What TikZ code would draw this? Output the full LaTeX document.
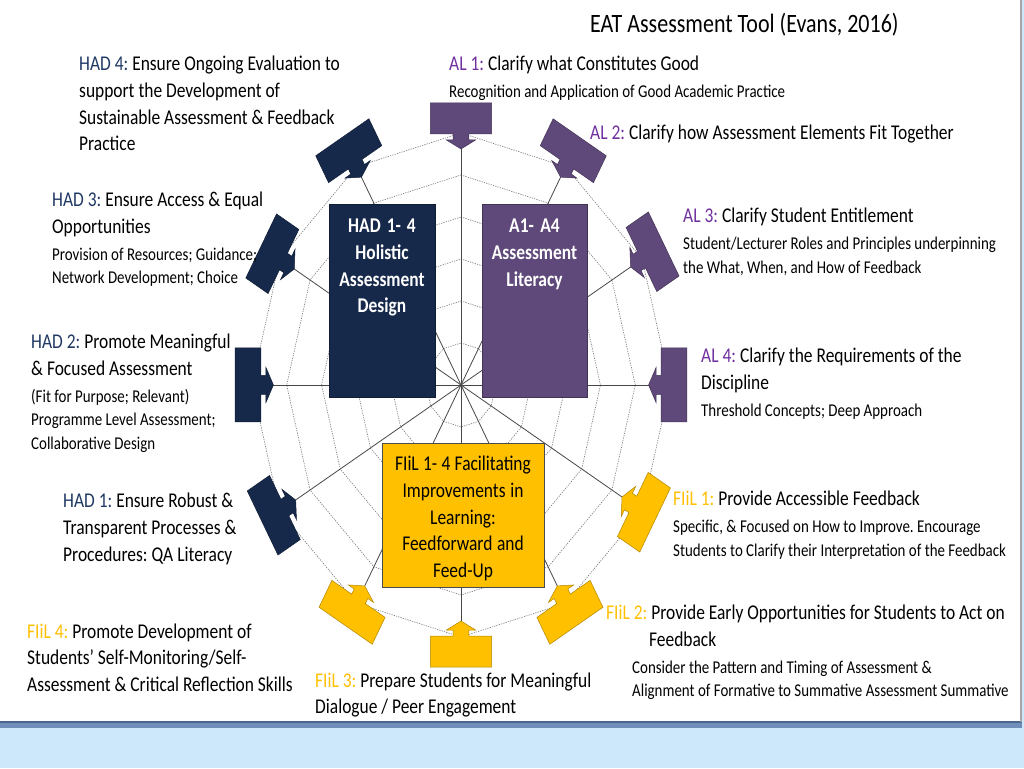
\documentclass[tikz,border=0pt]{standalone}
\usepackage{fontspec}
\setmainfont{Carlito}[FakeStretch=0.83]
\definecolor{navy}{HTML}{17294B}
\definecolor{purp}{HTML}{5F497A}
\definecolor{gold}{HTML}{FFC000}
\definecolor{hadc}{HTML}{1F3864}
\definecolor{alc}{HTML}{7030A0}
\definecolor{fiilc}{HTML}{FFC000}
\definecolor{bgblue}{HTML}{CCE8FA}
\definecolor{bandblue}{HTML}{6F8FBA}
\definecolor{banddark}{HTML}{4A6590}
\newcommand{\hp}[1]{\textcolor{hadc}{#1}}
\newcommand{\ap}[1]{\textcolor{alc}{#1}}
\newcommand{\fp}[1]{\textcolor{fiilc}{#1}}
\newcommand{\setsp}{\frenchspacing\spaceskip=0.188em plus 0.1em minus 0.05em\relax}
\newcommand{\mainsz}{\fontsize{21}{26.6}\selectfont\setsp}
\newcommand{\smsz}{\fontsize{18}{23.5}\selectfont\setsp}
\newcommand{\gapsm}{\par\vspace{3.2pt}\smsz}
\begin{document}
\begin{tikzpicture}[x=1pt,y=1pt,
  ring/.style={draw=black!55, line width=0.6pt, dash pattern=on 1.2pt off 1.2pt},
  spoke/.style={draw=black!72, line width=0.8pt},
  bigbox/.style={rectangle, inner sep=0pt, line width=0.6pt},
  boxtxt/.style={anchor=base, inner sep=0pt, text width=150pt, align=center, font=\mainsz, execute at begin node=\setsp},
  lbl/.style={anchor=base west, inner sep=0pt, text width=460pt, align=left, font=\mainsz, execute at begin node=\setsp}]
\useasboundingbox (0,0) rectangle (1024,768);
% slide background
\fill[bgblue] (0,0) rectangle (1024,768);
\fill[white] (0,46) rectangle (1020,768);
\fill[bandblue] (0,40) rectangle (1022,46);
\fill[banddark] (0,45) rectangle (1022,47);
\fill[black!35] (1020,46) rectangle (1022,768);
% chart
\coordinate (c) at (461,383);
\begin{scope}[shift={(461,383)}, xscale=0.83]
  \foreach \r in {42,84,...,252}
    \draw[ring] (90:\r) \foreach \a in {60,30,...,-240} { -- (\a:\r) } -- cycle;
  \foreach \k/\ang/\r in {0/90/236,1/60/240,2/30/236,3/0/226,4/-30/224,5/-60/232,
                          6/-90/236,7/-120/232,8/-150/230,9/180/226,10/150/232,11/120/240}
    \coordinate (t\k) at (\ang:\r);
  \foreach \k in {0,...,11} \draw[spoke] (c) -- (t\k);
  \foreach \ang/\r/\col in {90/236/purp,60/240/purp,30/236/purp,0/226/purp,
                            -30/224/gold,-60/232/gold,-90/236/gold,-120/232/gold,
                            -150/230/navy,180/226/navy,150/232/navy,120/240/navy}{
    \begin{scope}[shift={(\ang:\r)}, rotate=\ang-90]
      \filldraw[fill=\col, draw=\col!70!black, line width=0.5pt]
        (0,0) -- (17.5,9) -- (9.5,9) -- (9.5,15) -- (37,15) -- (37,46)
        -- (-37,46) -- (-37,15) -- (-9.5,15) -- (-9.5,9) -- (-17.5,9) -- cycle;
    \end{scope}}
\end{scope}
% central boxes
\node[bigbox, fill=navy, draw=navy!70!black, minimum width=106pt, minimum height=193pt] (had) at (382,467.5) {};
\node[bigbox, fill=purp, draw=purp!70!black, minimum width=105pt, minimum height=193pt] (al) at (534.5,467.5) {};
\node[bigbox, fill=gold, draw=black!70, minimum width=162pt, minimum height=144pt] (fiil) at (463,253) {};
\node[boxtxt, text=white, font=\mainsz\bfseries] (hadt) at (382,535) {HAD 1- 4\\Holistic\\Assessment\\Design};
\node[boxtxt, text=white, font=\mainsz\bfseries] (alt) at (534.5,535) {A1- A4\\Assessment\\Literacy};
\node[boxtxt, text=black] (fiilt) at (463,297) {FIiL 1- 4 Facilitating\\Improvements in\\Learning:\\Feedforward and\\Feed-Up};
% title
\node[anchor=base west, inner sep=0pt, font=\fontsize{26.5}{30}\selectfont\setsp] (title) at (590,735) {EAT Assessment Tool (Evans, 2016)};
% labels
\node[lbl] (had4) at (79,697) {\hp{HAD 4:} Ensure Ongoing Evaluation to\\support the Development of\\Sustainable Assessment \& Feedback\\Practice\par};
\node[lbl] (al1) at (449,697) {\ap{AL 1:} Clarify what Constitutes Good\gapsm Recognition and Application of Good Academic Practice\par};
\node[lbl] (al2) at (590,628) {\ap{AL 2:} Clarify how Assessment Elements Fit Together\par};
\node[lbl] (had3) at (52,561) {\hp{HAD 3:} Ensure Access \& Equal\\Opportunities\gapsm Provision of Resources; Guidance;\par Network Development; Choice\par};
\node[lbl] (al3) at (683,545) {\ap{AL 3:} Clarify Student Entitlement\gapsm Student/Lecturer Roles and Principles underpinning\par the What, When, and How of Feedback\par};
\node[lbl] (had2) at (31,419) {\hp{HAD 2:} Promote Meaningful\\\& Focused Assessment\gapsm (Fit for Purpose; Relevant)\par Programme Level Assessment;\par Collaborative Design\par};
\node[lbl] (al4) at (701,405) {\ap{AL 4:} Clarify the Requirements of the\\Discipline\gapsm Threshold Concepts; Deep Approach\par};
\node[lbl] (had1) at (63,260) {\hp{HAD 1:} Ensure Robust \&\\Transparent Processes \&\\Procedures: QA Literacy\par};
\node[lbl] (fiil1) at (673,262) {\fp{FIiL 1:} Provide Accessible Feedback\gapsm Specific, \& Focused on How to Improve. Encourage\par Students to Clarify their Interpretation of the Feedback\par};
\node[lbl] (fiil2) at (606,148) {\fp{FIiL 2:} Provide Early Opportunities for Students to Act on\\\hspace*{43pt}Feedback\gapsm\hspace*{26pt}Consider the Pattern and Timing of Assessment \&\par\hspace*{26pt}Alignment of Formative to Summative Assessment Summative\par};
\node[lbl] (fiil4) at (27,130) {\fp{FIiL 4:} Promote Development of\\Students’ Self-Monitoring/Self-\\Assessment \& Critical Reflection Skills\par};
\node[lbl] (fiil3) at (315,81) {\fp{FIiL 3:} Prepare Students for Meaningful\\Dialogue / Peer Engagement\par};
\end{tikzpicture}
\end{document}
